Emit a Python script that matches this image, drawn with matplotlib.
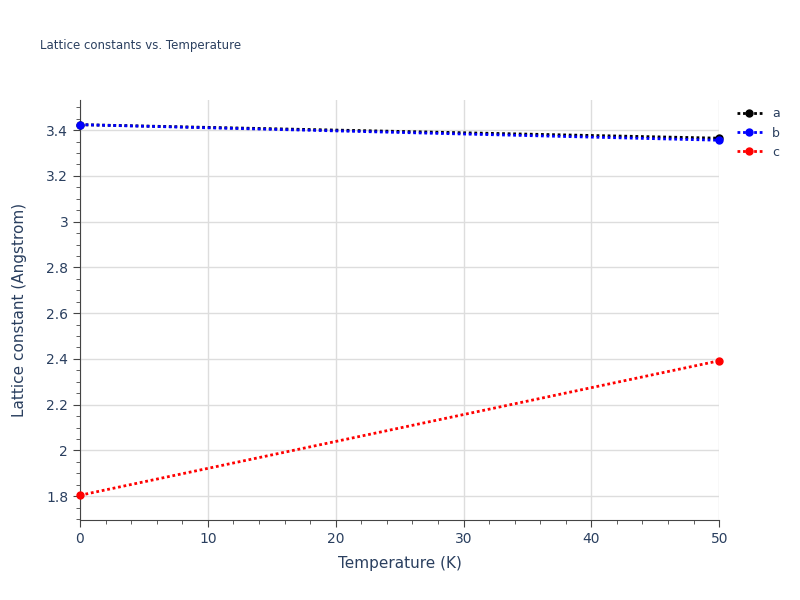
import matplotlib
matplotlib.use("Agg")
import matplotlib.pyplot as plt
from matplotlib.ticker import MultipleLocator

T = [0, 50]
a = [3.424, 3.365]
b = [3.424, 3.356]
c = [1.804, 2.392]
names = ["a", "b", "c"]
colors = ["black", "blue", "red"]

fig = plt.figure(figsize=(8, 6), dpi=100)
ax = fig.add_axes([0.1, 0.133, 0.799, 0.7])
for y, n, col in zip([a, b, c], names, colors):
    ax.plot(T, y, linestyle=(0, (1, 1)), lw=2, color=col, marker="o", ms=5, label=n, clip_on=False, zorder=3)
ax.set_xlim(0, 50)
ax.set_ylim(1.695, 3.531)
ax.xaxis.set_major_locator(MultipleLocator(10))
ax.xaxis.set_minor_locator(MultipleLocator(2))
ax.yaxis.set_major_locator(MultipleLocator(0.2))
ax.yaxis.set_minor_locator(MultipleLocator(0.05))
ax.yaxis.set_major_formatter(plt.FuncFormatter(lambda v, p: f"{v:g}"))
ax.grid(True, which="major", color="#dddddd", lw=1)
ax.set_axisbelow(True)
for s in ["top", "right"]:
    ax.spines[s].set_visible(False)
ax.spines["left"].set_color("#444444")
ax.spines["bottom"].set_color("#444444")
ax.tick_params(which="both", colors="#444444", labelcolor="#2a3f5f", labelsize=10, direction="out")
ax.tick_params(which="major", length=5)
ax.tick_params(which="minor", length=3)
ax.set_xlabel("Temperature (K)", color="#2a3f5f", fontsize=11, labelpad=7)
ax.set_ylabel("Lattice constant (Angstrom)", color="#2a3f5f", fontsize=11, labelpad=14)
fig.text(0.05, 0.925, "Lattice constants vs. Temperature", color="#2a3f5f", fontsize=8.5, va="center")
leg = ax.legend(loc="upper left", bbox_to_anchor=(1.01, 1.01), frameon=False, fontsize=9, handlelength=2, labelcolor="#2a3f5f")
fig.savefig("out.png")
